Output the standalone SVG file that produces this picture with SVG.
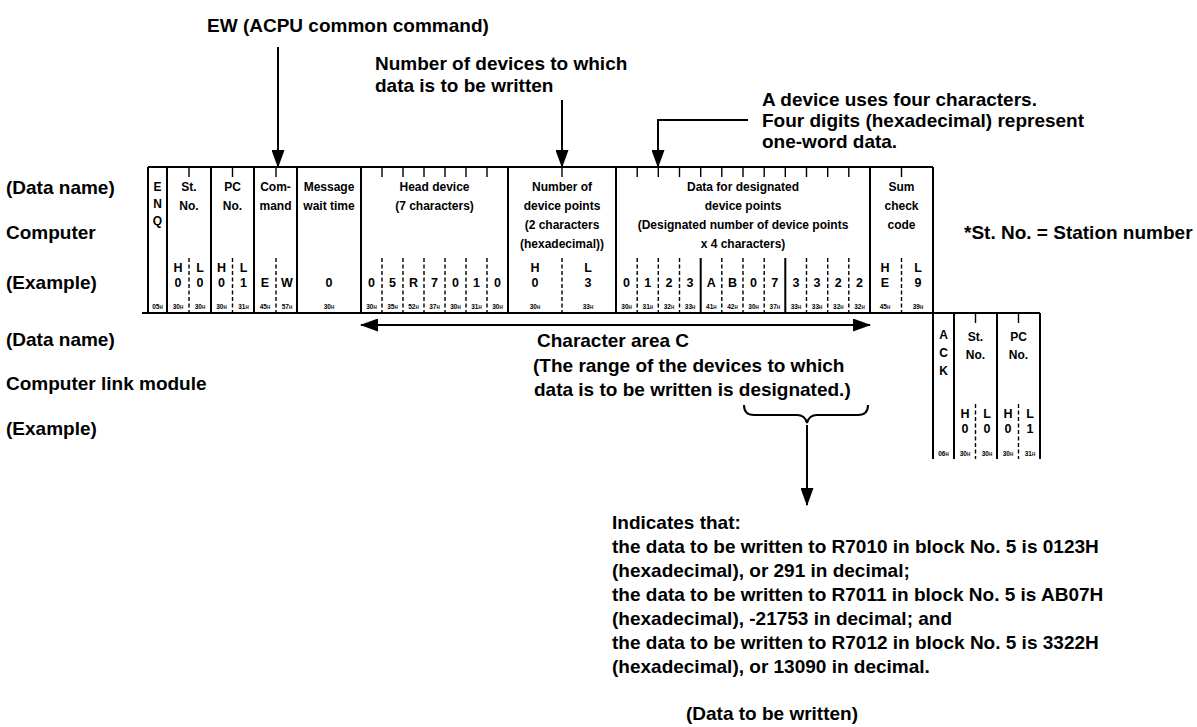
<svg xmlns="http://www.w3.org/2000/svg" width="1197" height="727" viewBox="0 0 1197 727">
<defs>
<style>
text{font-family:"Liberation Sans",Arial,Helvetica,sans-serif;font-weight:bold;fill:#000}
.L{font-size:19px}
.h{font-size:12px;text-anchor:middle}
.v{font-size:12.5px;text-anchor:middle}
.x{font-size:6.5px;text-anchor:middle}
.x tspan{font-size:4.5px}
.s{stroke:#000;stroke-width:2;fill:none}
.k{stroke:#000;stroke-width:1.4;fill:none}
.d{stroke:#000;stroke-width:1.4;stroke-dasharray:4 2.5;fill:none}
.a{stroke:#000;stroke-width:2;fill:none;marker-end:url(#ah)}
</style>
<marker id="ah" viewBox="0 0 18 13" refX="17" refY="6.5" markerWidth="18" markerHeight="13" markerUnits="userSpaceOnUse" orient="auto-start-reverse"><path d="M0,0 L18,6.5 L0,13 z" fill="#000"/></marker>
</defs>
<rect width="1197" height="727" fill="#fff"/>

<g id="labels">
<text class="L" x="207" y="32">EW (ACPU common command)</text>
<text class="L" x="375" y="70">Number of devices to which</text>
<text class="L" x="375" y="92">data is to be written</text>
<text class="L" x="762" y="106">A device uses four characters.</text>
<text class="L" x="762" y="127">Four digits (hexadecimal) represent</text>
<text class="L" x="762" y="148">one-word data.</text>
<text class="L" x="6" y="194">(Data name)</text>
<text class="L" x="6" y="239">Computer</text>
<text class="L" x="6" y="289">(Example)</text>
<text class="L" x="964" y="239">*St. No. = Station number</text>
<text class="L" x="6" y="346">(Data name)</text>
<text class="L" x="6" y="390">Computer link module</text>
<text class="L" x="6" y="435">(Example)</text>
<text class="L" x="537" y="347">Character area C</text>
<text class="L" x="533" y="372">(The range of the devices to which</text>
<text class="L" x="534" y="396">data is to be written is designated.)</text>
</g>

<g id="frame-computer">
<path class="s" d="M148,167 H933 M148,167 V313 M167,167 V313 M211,167 V313 M254,167 V313 M297,167 V313 M361,167 V313 M508,167 V313 M616,167 V313 M870,167 V313 M933,167 V313"/>
<path class="k" d="M189,167 v10 M232.5,167 v10 M276,167 v10 M382,167 v10 M403,167 v10 M424,167 v10 M445,167 v10 M466,167 v10 M487,167 v10 M562,167 v10 M637.2,167 v10 M658.3,167 v10 M679.5,167 v10 M700.7,167 v10 M721.8,167 v10 M743,167 v10 M764.2,167 v10 M785.3,167 v10 M806.5,167 v10 M827.7,167 v10 M848.8,167 v10 M901.5,167 v10"/>
<path class="d" d="M189,258 V313 M232.5,258 V313 M276,258 V313 M382,258 V313 M403,258 V313 M424,258 V313 M445,258 V313 M466,258 V313 M487,258 V313 M562,258 V313 M637.2,258 V313 M658.3,258 V313 M679.5,258 V313 M721.8,258 V313 M743,258 V313 M764.2,258 V313 M806.5,258 V313 M827.7,258 V313 M848.8,258 V313 M901.5,258 V313"/>
<path class="s" d="M700.7,258 V313 M785.3,258 V313"/>
<text class="h" x="157.5" y="191.3">E</text><text class="h" x="157.5" y="208.3">N</text><text class="h" x="157.5" y="225.3">Q</text>
<text class="h" x="189" y="191.3">St.</text><text class="h" x="189" y="210.3">No.</text>
<text class="h" x="232.5" y="191.3">PC</text><text class="h" x="232.5" y="210.3">No.</text>
<text class="h" x="275.5" y="191.3">Com-</text><text class="h" x="275.5" y="210.3">mand</text>
<text class="h" x="329" y="191.3">Message</text><text class="h" x="329" y="210.3">wait time</text>
<text class="h" x="434.5" y="191.3">Head device</text><text class="h" x="434.5" y="210.3">(7 characters)</text>
<text class="h" x="562" y="191.3">Number of</text><text class="h" x="562" y="210.3">device points</text><text class="h" x="562" y="229.3">(2 characters</text><text class="h" x="562" y="248.3">(hexadecimal))</text>
<text class="h" x="743" y="191.3">Data for designated</text><text class="h" x="743" y="210.3">device points</text><text class="h" x="743" y="229.3">(Designated number of device points</text><text class="h" x="743" y="248.3">x 4 characters)</text>
<text class="h" x="901.5" y="191.3">Sum</text><text class="h" x="901.5" y="210.3">check</text><text class="h" x="901.5" y="229.3">code</text>
<text class="v" x="178" y="271.5">H</text><text class="v" x="200" y="271.5">L</text>
<text class="v" x="221.5" y="271.5">H</text><text class="v" x="243.5" y="271.5">L</text>
<text class="v" x="535" y="271.5">H</text><text class="v" x="588" y="271.5">L</text>
<text class="v" x="885" y="271.5">H</text><text class="v" x="918" y="271.5">L</text>
<text class="v" x="178" y="286.5">0</text><text class="v" x="200" y="286.5">0</text>
<text class="v" x="221.5" y="286.5">0</text><text class="v" x="243.5" y="286.5">1</text>
<text class="v" x="265" y="286.5">E</text><text class="v" x="287" y="286.5">W</text>
<text class="v" x="329" y="286.5">0</text>
<text class="v" x="371.5" y="286.5">0</text><text class="v" x="392.5" y="286.5">5</text><text class="v" x="413.5" y="286.5">R</text><text class="v" x="434.5" y="286.5">7</text><text class="v" x="455.5" y="286.5">0</text><text class="v" x="476.5" y="286.5">1</text><text class="v" x="497.5" y="286.5">0</text>
<text class="v" x="535" y="286.5">0</text><text class="v" x="588" y="286.5">3</text>
<text class="v" x="626.6" y="286.5">0</text><text class="v" x="647.8" y="286.5">1</text><text class="v" x="668.9" y="286.5">2</text><text class="v" x="690.1" y="286.5">3</text><text class="v" x="711.3" y="286.5">A</text><text class="v" x="732.4" y="286.5">B</text><text class="v" x="753.6" y="286.5">0</text><text class="v" x="774.8" y="286.5">7</text><text class="v" x="795.9" y="286.5">3</text><text class="v" x="817.1" y="286.5">3</text><text class="v" x="838.3" y="286.5">2</text><text class="v" x="859.4" y="286.5">2</text>
<text class="v" x="885" y="286.5">E</text><text class="v" x="918" y="286.5">9</text>
<text class="x" x="157.5" y="309">05<tspan>H</tspan></text>
<text class="x" x="178" y="309">30<tspan>H</tspan></text><text class="x" x="200" y="309">30<tspan>H</tspan></text>
<text class="x" x="221.5" y="309">30<tspan>H</tspan></text><text class="x" x="243.5" y="309">31<tspan>H</tspan></text>
<text class="x" x="265" y="309">45<tspan>H</tspan></text><text class="x" x="287" y="309">57<tspan>H</tspan></text>
<text class="x" x="329" y="309">30<tspan>H</tspan></text>
<text class="x" x="371.5" y="309">30<tspan>H</tspan></text><text class="x" x="392.5" y="309">35<tspan>H</tspan></text><text class="x" x="413.5" y="309">52<tspan>H</tspan></text><text class="x" x="434.5" y="309">37<tspan>H</tspan></text><text class="x" x="455.5" y="309">30<tspan>H</tspan></text><text class="x" x="476.5" y="309">31<tspan>H</tspan></text><text class="x" x="497.5" y="309">30<tspan>H</tspan></text>
<text class="x" x="535" y="309">30<tspan>H</tspan></text><text class="x" x="588" y="309">33<tspan>H</tspan></text>
<text class="x" x="626.6" y="309">30<tspan>H</tspan></text><text class="x" x="647.8" y="309">31<tspan>H</tspan></text><text class="x" x="668.9" y="309">32<tspan>H</tspan></text><text class="x" x="690.1" y="309">33<tspan>H</tspan></text><text class="x" x="711.3" y="309">41<tspan>H</tspan></text><text class="x" x="732.4" y="309">42<tspan>H</tspan></text><text class="x" x="753.6" y="309">30<tspan>H</tspan></text><text class="x" x="774.8" y="309">37<tspan>H</tspan></text><text class="x" x="795.9" y="309">33<tspan>H</tspan></text><text class="x" x="817.1" y="309">33<tspan>H</tspan></text><text class="x" x="838.3" y="309">32<tspan>H</tspan></text><text class="x" x="859.4" y="309">32<tspan>H</tspan></text>
<text class="x" x="885" y="309">45<tspan>H</tspan></text><text class="x" x="918" y="309">39<tspan>H</tspan></text>
</g>

<g id="frame-module">
<path class="s" d="M933,313 V459 M954,313 V459 M997,313 V459 M1040,313 V459"/>
<path class="k" d="M975.5,313 v10 M1018.5,313 v10"/>
<path class="d" d="M975.5,404 V459 M1018.5,404 V459"/>
<text class="h" x="943.5" y="339.3">A</text><text class="h" x="943.5" y="357.3">C</text><text class="h" x="943.5" y="375.3">K</text>
<text class="h" x="975.5" y="341.3">St.</text><text class="h" x="975.5" y="359.3">No.</text>
<text class="h" x="1018.5" y="341.3">PC</text><text class="h" x="1018.5" y="359.3">No.</text>
<text class="v" x="965" y="417.5">H</text><text class="v" x="987" y="417.5">L</text>
<text class="v" x="1008" y="417.5">H</text><text class="v" x="1030" y="417.5">L</text>
<text class="v" x="965" y="432.5">0</text><text class="v" x="987" y="432.5">0</text>
<text class="v" x="1008" y="432.5">0</text><text class="v" x="1030" y="432.5">1</text>
<text class="x" x="943.5" y="455.5">06<tspan>H</tspan></text>
<text class="x" x="965" y="455.5">30<tspan>H</tspan></text><text class="x" x="987" y="455.5">30<tspan>H</tspan></text>
<text class="x" x="1008" y="455.5">30<tspan>H</tspan></text><text class="x" x="1030" y="455.5">31<tspan>H</tspan></text>
</g>

<g id="timeline">
<path class="s" d="M142,313 H1040"/>
</g>

<g id="note">
<text class="L" x="612" y="529">Indicates that:</text>
<text class="L" x="612" y="553">the data to be written to R7010 in block No. 5 is 0123H</text>
<text class="L" x="612" y="577">(hexadecimal), or 291 in decimal;</text>
<text class="L" x="612" y="601">the data to be written to R7011 in block No. 5 is AB07H</text>
<text class="L" x="612" y="625">(hexadecimal), -21753 in decimal; and</text>
<text class="L" x="612" y="649">the data to be written to R7012 in block No. 5 is 3322H</text>
<text class="L" x="612" y="673">(hexadecimal), or 13090 in decimal.</text>
<text class="L" x="772" y="720" text-anchor="middle">(Data to be written)</text>
</g>

<g id="connectors">
<path class="a" d="M278,47 V167"/>
<path class="a" d="M562,100 V167"/>
<path class="a" d="M748,120 H658 V167"/>
<path class="a" style="marker-start:url(#ah)" d="M361,325 H870"/>
<path class="s" d="M744,405 Q744,415 754,415 H797 Q805,415 807,423 Q809,415 817,415 H858 Q868,415 868,405"/>
<path class="a" d="M807,425 V505"/>
</g>
</svg>
